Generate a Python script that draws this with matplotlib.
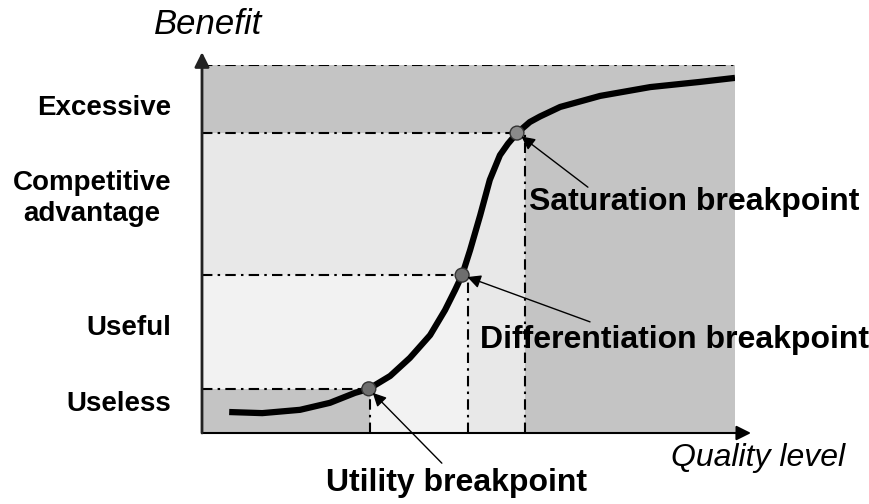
import matplotlib
matplotlib.use('Agg')
import matplotlib.pyplot as plt
import numpy as np

plt.rcParams['font.family'] = ['Liberation Sans', 'DejaVu Sans']

# benefit curve (quality level 0-100, benefit 0-100)
curve_x = [5.1, 11.3, 18.4, 24.0, 28.7, 31.3, 35.3, 39.0, 42.8, 45.6, 47.5, 48.8,
           50.3, 52.2, 54.0, 55.9, 57.4, 59.1, 61.5, 63.4, 67.2, 74.7, 84.1, 93.4, 100.0]
curve_y = [5.7, 5.4, 6.3, 8.2, 10.9, 12.0, 15.5, 20.4, 26.6, 33.4, 38.9, 42.9,
           49.7, 59.2, 68.8, 75.5, 78.6, 81.5, 84.5, 86.0, 88.6, 91.6, 94.0, 95.4, 96.5]

# breakpoints
bp_names = ['Utility breakpoint', 'Differentiation breakpoint', 'Saturation breakpoint']
bp_x = [31.3, 48.8, 59.1]
bp_y = [12.0, 42.9, 81.5]
bp_colors = ['#6e6e6e', '#6e6e6e', '#8a8a8a']
guide_x = [31.5, 49.9, 60.6]
top_level = 100

levels = ['Useless', 'Useful', 'Competitive\nadvantage', 'Excessive']
level_y = [7.9, 28.5, 63.6, 88.3]

dark = '#c4c4c4'
mid = '#e8e8e8'
light = '#f2f2f2'

fig = plt.figure(figsize=(8.7, 5.04), dpi=100)
ax = fig.add_axes([202/870, (504-433)/504, 533/870, 368/504])
ax.set_xlim(0, 100)
ax.set_ylim(0, 100)
ax.axis('off')

g1, g2, g3 = guide_x
h1, h2, h3 = bp_y

# shaded zones
ax.fill_between([0, 100], h3, top_level, color=dark, lw=0)
ax.fill_between([g3, 100], 0, h3, color=dark, lw=0)
ax.fill_between([0, g1], 0, h1, color=dark, lw=0)
ax.fill_between([0, g3], h2, h3, color=mid, lw=0)
ax.fill_between([g2, g3], 0, h2, color=mid, lw=0)
ax.fill_between([0, g2], h1, h2, color=light, lw=0)
ax.fill_between([g1, g2], 0, h1, color=light, lw=0)

ls = (0, (5, 2.5, 1.2, 2.5))
ax.plot([0, 100], [top_level, top_level], color='k', lw=1.5, ls=ls)
for gx, hy in zip(guide_x, bp_y):
    ax.plot([0, gx], [hy, hy], color='k', lw=1.5, ls=ls)
    ax.plot([gx, gx], [0, hy], color='k', lw=1.5, ls=ls)

# axes arrows
ax.annotate('', xy=(103, 0), xytext=(0, 0), annotation_clip=False,
            arrowprops=dict(arrowstyle='-|>', color='k', lw=1.5, mutation_scale=22,
                            shrinkA=0, shrinkB=0))
ax.annotate('', xy=(0, 103.5), xytext=(0, 0), annotation_clip=False,
            arrowprops=dict(arrowstyle='-|>', color='#222222', lw=2, mutation_scale=22,
                            shrinkA=0, shrinkB=0))

ax.plot(curve_x, curve_y, color='k', lw=4.5, solid_capstyle='butt',
        solid_joinstyle='round', zorder=5)
ax.scatter(bp_x, bp_y, s=100, c=bp_colors, edgecolors='#333333', linewidths=1, zorder=6)

# breakpoint labels
tails = [(45.0, -8.2), (72.8, 30.2), (72.4, 66.8)]
label_pos = [(47.7, -13.5), (88.6, 25.3), (92.3, 62.8)]
for name, px, py, t, lp in zip(bp_names, bp_x, bp_y, tails, label_pos):
    ax.annotate('', xy=(px, py), xytext=t, annotation_clip=False,
                arrowprops=dict(arrowstyle='-|>', color='k', lw=1, mutation_scale=20,
                                shrinkA=0, shrinkB=4), zorder=7)
    ax.text(lp[0], lp[1], name, ha='center', va='center', fontsize=23,
            fontweight='bold', clip_on=False)

for lab, ly in zip(levels, level_y):
    ax.text(-5.8, ly, lab, ha='right', va='center', fontsize=20, fontweight='bold',
            multialignment='center', linespacing=1.25, clip_on=False)

ax.text(104.3, -6.8, 'Quality level', ha='center', va='center', fontsize=23,
        style='italic', clip_on=False)
ax.text(1.2, 110.9, 'Benefit', ha='center', va='center', fontsize=25,
        style='italic', clip_on=False)

fig.savefig('out.png', dpi=100)
